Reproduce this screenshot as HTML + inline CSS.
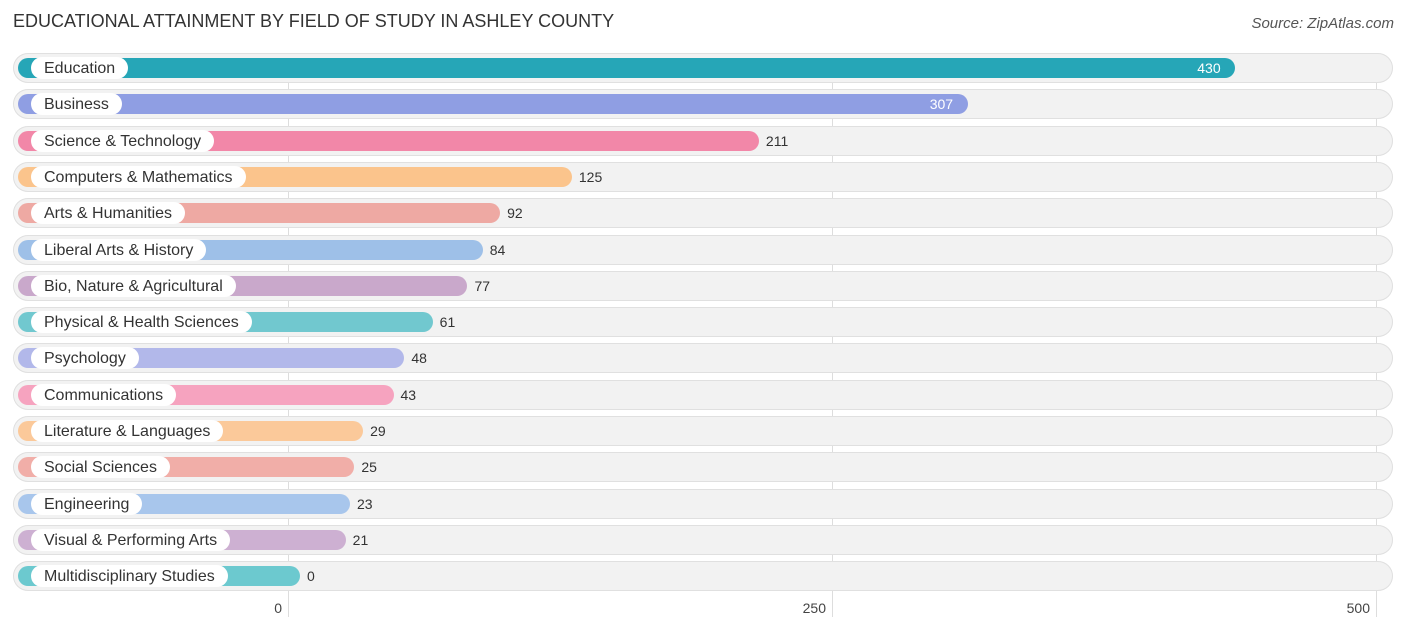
<!DOCTYPE html>
<html><head><meta charset="utf-8"><style>
body{margin:0;background:#fff;font-family:"Liberation Sans",sans-serif;}
#c{position:relative;width:1406px;height:631px;overflow:hidden;}
.t{position:absolute;left:13px;top:11px;font-size:18px;color:#333;}
.s{position:absolute;right:12px;top:15px;font-size:15px;color:#555;font-style:italic;}
.g{position:absolute;top:55px;height:562px;width:1px;background:#ddd;}
.tr{position:absolute;left:13px;width:1380px;height:30px;border-radius:15px;background:#f2f2f2;box-shadow:inset 0 0 0 1px #e0e0e0;}
.b{position:absolute;left:18px;height:20px;border-radius:10px;}
.l{position:absolute;left:31px;height:22px;line-height:23px;padding:0 13px;border-radius:11px;background:#fff;font-size:16px;color:#333;white-space:nowrap;}
.v{position:absolute;font-size:14px;line-height:21px;color:#333;}
.x{position:absolute;top:600px;font-size:14px;color:#444;transform:translateX(-100%);}
</style></head><body>
<div id="c">
<div class="t">EDUCATIONAL ATTAINMENT BY FIELD OF STUDY IN ASHLEY COUNTY</div>
<div class="s">Source: ZipAtlas.com</div>
</div>
<script>
const categories=["Education","Business","Science & Technology","Computers & Mathematics","Arts & Humanities","Liberal Arts & History","Bio, Nature & Agricultural","Physical & Health Sciences","Psychology","Communications","Literature & Languages","Social Sciences","Engineering","Visual & Performing Arts","Multidisciplinary Studies"];
const values=[430,307,211,125,92,84,77,61,48,43,29,25,23,21,0];
const colors=["#26a6b7","#8f9ee3","#f287a8","#fbc48c","#eea9a3","#9ec0e8","#c9a8cb","#71c8cf","#b2b8ea","#f6a3bf","#fbc99a","#f1aea8","#a8c6ec","#cdb0d2","#6cc9cf"];
const ticks=[0,250,500];
const c=document.getElementById('c');
const gx=v=>288+v*2.176;
const bx=v=>300+v*2.175;
ticks.forEach(t=>{
 const g=document.createElement('div');g.className='g';g.style.left=gx(t)+'px';
 
 
 c.appendChild(g);
 const x=document.createElement('div');x.className='x';x.style.left=(gx(t)-6)+'px';x.textContent=t;
 
 
 c.appendChild(x);
});
categories.forEach((cat,i)=>{
 const cy=68+i*36.3;
 const tr=document.createElement('div');tr.className='tr';tr.style.top=(cy-15)+'px';
 
 
 c.appendChild(tr);
 const b=document.createElement('div');b.className='b';b.style.top=(cy-10)+'px';
 const end=bx(values[i]);b.style.width=(end-18)+'px';b.style.background=colors[i];
 
 
 c.appendChild(b);
 const l=document.createElement('div');l.className='l';l.style.top=(cy-11)+'px';l.textContent=cat;
 
 
 c.appendChild(l);
 const v=document.createElement('div');v.className='v';v.style.top=(cy-10)+'px';v.textContent=values[i];
 if(i<2){v.style.left=(end-38)+'px';v.style.color='#fff';}else{v.style.left=(end+7)+'px';}
 
 
 c.appendChild(v);
});
</script>
</body></html>
